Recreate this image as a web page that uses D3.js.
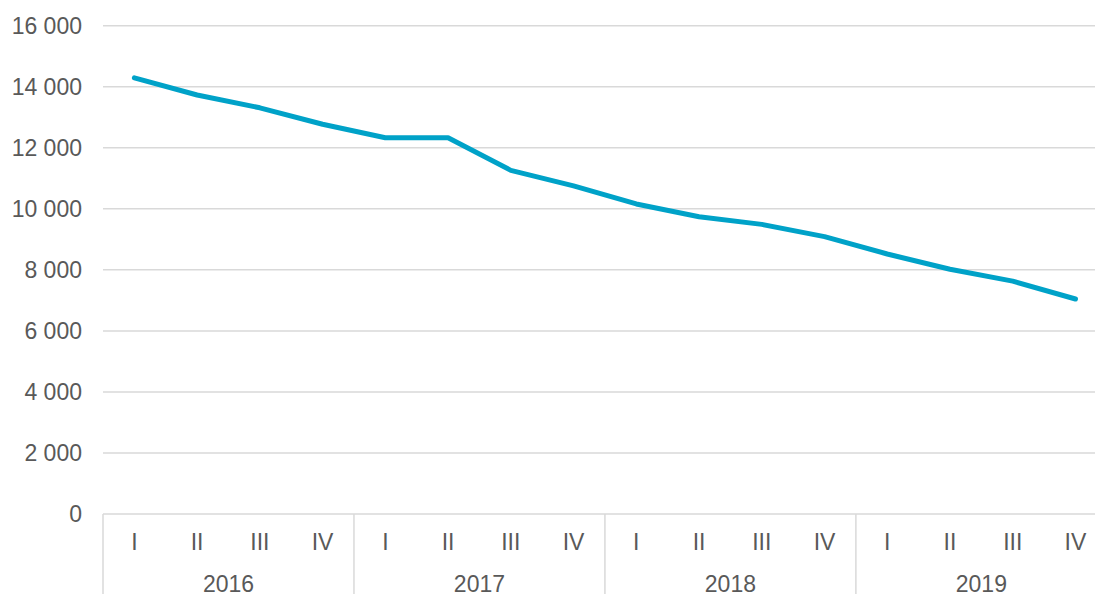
<!DOCTYPE html>
<html>
<head>
<meta charset="utf-8">
<script src="https://cdn.jsdelivr.net/npm/d3@7"></script>
<style>
  html, body { margin: 0; padding: 0; background: #fff; }
  svg { display: block; }
  text { font-family: "Liberation Sans", Arial, sans-serif; fill: #595959; }
</style>
</head>
<body>
<svg id="chart" width="1095" height="594"></svg>
<script>
const years = ["2016", "2017", "2018", "2019"];
const quarters = ["I", "II", "III", "IV"];
const values = [14290, 13730, 13310, 12770, 12330, 12330, 11260, 10750,
                10160, 9740, 9490, 9090, 8520, 8020, 7630, 7045];
const yTicks = [0, 2000, 4000, 6000, 8000, 10000, 12000, 14000, 16000];

(function () {
const svg = d3.select("#chart");
const W = 1095, H = 594;
const plotLeft = 103, band = 62.74;
const plotRight = plotLeft + band * values.length;
const plotTop = 25.7, plotBottom = 514;

const categories = [];
years.forEach(yr => quarters.forEach(q => categories.push({ year: yr, q: q, key: yr + "-" + q })));

const x = d3.scaleBand().domain(categories.map(d => d.key)).range([plotLeft, plotRight]).padding(0);
const y = d3.scaleLinear().domain([0, 16000]).range([plotBottom, plotTop]);
const fmt = v => d3.format(",")(v).replace(/,/g, " ");

// gridlines
svg.append("g").selectAll("line").data(yTicks).join("line")
  .attr("x1", plotLeft).attr("x2", plotRight)
  .attr("y1", d => y(d)).attr("y2", d => y(d))
  .attr("stroke", "#D9D9D9").attr("stroke-width", 1.5);

// y labels
svg.append("g").selectAll("text").data(yTicks).join("text")
  .attr("x", 82).attr("y", d => y(d)).attr("dy", "0.36em")
  .attr("text-anchor", "end").attr("font-size", 23)
  .text(fmt);

// year separators
const yearBounds = d3.range(years.length + 1).map(i => plotLeft + i * 4 * band);
svg.append("g").selectAll("line").data(yearBounds).join("line")
  .attr("x1", d => d).attr("x2", d => d)
  .attr("y1", plotBottom).attr("y2", H)
  .attr("stroke", "#D9D9D9").attr("stroke-width", 1.5);

// quarter labels
svg.append("g").selectAll("text").data(categories).join("text")
  .attr("x", d => x(d.key) + x.bandwidth() / 2).attr("y", 550)
  .attr("text-anchor", "middle").attr("font-size", 23)
  .text(d => d.q);

// year labels
svg.append("g").selectAll("text").data(years).join("text")
  .attr("x", (d, i) => plotLeft + (i * 4 + 2) * band).attr("y", 592)
  .attr("text-anchor", "middle").attr("font-size", 23)
  .text(d => d);

// line
const line = d3.line()
  .x((d, i) => x(categories[i].key) + x.bandwidth() / 2)
  .y(d => y(d));
svg.append("path").datum(values)
  .attr("d", line)
  .attr("fill", "none")
  .attr("stroke", "#00A2C8")
  .attr("stroke-width", 5)
  .attr("stroke-linecap", "round")
  .attr("stroke-linejoin", "round");
})();
</script>
</body>
</html>
